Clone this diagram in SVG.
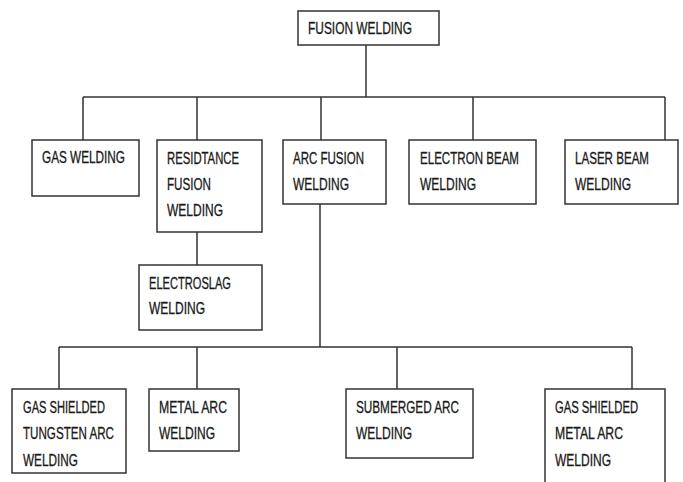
<svg xmlns="http://www.w3.org/2000/svg" width="683" height="482" viewBox="0 0 683 482">
<style>
.box{fill:#fff;stroke:#333;stroke-width:1.5}
.ln{fill:none;stroke:#333;stroke-width:1.5}
.t{font-family:"Liberation Sans",Arial,sans-serif;font-size:16px;fill:#1a1a1a;stroke:#1a1a1a;stroke-width:0.3}
</style>
<rect width="683" height="482" fill="#fff"/>
<g id="connectors" class="ln">
<path d="M366 45V97M83 97H665M83 97V140M197 97V140M321 97V140M473 97V140M665 97V140"/>
<path d="M197 232V265"/>
<path d="M320 204V347M59 347H632M59 347V389M197 347V389M397 347V389M632 347V389"/>
</g>
<g class="t" font-size="16">
<g id="fusion-welding"><rect class="box" x="298" y="11" width="141" height="34"/><text x="308" y="34" textLength="104" lengthAdjust="spacingAndGlyphs">FUSION WELDING</text></g>
<g id="gas-welding"><rect class="box" x="32" y="140" width="107" height="56"/><text x="42" y="163" textLength="83" lengthAdjust="spacingAndGlyphs">GAS WELDING</text></g>
<g id="resistance"><rect class="box" x="157" y="140" width="105" height="92"/><text x="167" y="164" textLength="72" lengthAdjust="spacingAndGlyphs">RESIDTANCE</text><text x="167" y="190" textLength="44" lengthAdjust="spacingAndGlyphs">FUSION</text><text x="167" y="216" textLength="56" lengthAdjust="spacingAndGlyphs">WELDING</text></g>
<g id="arc-fusion"><rect class="box" x="283" y="140" width="103" height="64"/><text x="293" y="164" textLength="71" lengthAdjust="spacingAndGlyphs">ARC FUSION</text><text x="293" y="190" textLength="56" lengthAdjust="spacingAndGlyphs">WELDING</text></g>
<g id="electron-beam"><rect class="box" x="409" y="140" width="127" height="64"/><text x="420" y="164" textLength="99" lengthAdjust="spacingAndGlyphs">ELECTRON BEAM</text><text x="420" y="190" textLength="56" lengthAdjust="spacingAndGlyphs">WELDING</text></g>
<g id="laser-beam"><rect class="box" x="565" y="140" width="113" height="64"/><text x="575" y="164" textLength="74" lengthAdjust="spacingAndGlyphs">LASER BEAM</text><text x="575" y="190" textLength="56" lengthAdjust="spacingAndGlyphs">WELDING</text></g>
<g id="electroslag"><rect class="box" x="139" y="265" width="123" height="65"/><text x="149" y="289" textLength="82" lengthAdjust="spacingAndGlyphs">ELECTROSLAG</text><text x="149" y="314" textLength="56" lengthAdjust="spacingAndGlyphs">WELDING</text></g>
<g id="gas-tungsten"><rect class="box" x="12" y="389" width="114" height="84"/><text x="23" y="413" textLength="82" lengthAdjust="spacingAndGlyphs">GAS SHIELDED</text><text x="23" y="439" textLength="91" lengthAdjust="spacingAndGlyphs">TUNGSTEN ARC</text><text x="23" y="466" textLength="55" lengthAdjust="spacingAndGlyphs">WELDING</text></g>
<g id="metal-arc"><rect class="box" x="149" y="389" width="90" height="62"/><text x="159" y="413" textLength="68" lengthAdjust="spacingAndGlyphs">METAL ARC</text><text x="159" y="439" textLength="56" lengthAdjust="spacingAndGlyphs">WELDING</text></g>
<g id="submerged-arc"><rect class="box" x="346" y="389" width="127" height="69"/><text x="356" y="413" textLength="103" lengthAdjust="spacingAndGlyphs">SUBMERGED ARC</text><text x="356" y="439" textLength="56" lengthAdjust="spacingAndGlyphs">WELDING</text></g>
<g id="gas-metal-arc"><rect class="box" x="545" y="389" width="120" height="100"/><text x="555" y="413" textLength="83" lengthAdjust="spacingAndGlyphs">GAS SHIELDED</text><text x="555" y="439" textLength="68" lengthAdjust="spacingAndGlyphs">METAL ARC</text><text x="555" y="466" textLength="56" lengthAdjust="spacingAndGlyphs">WELDING</text></g>
</g>
</svg>
